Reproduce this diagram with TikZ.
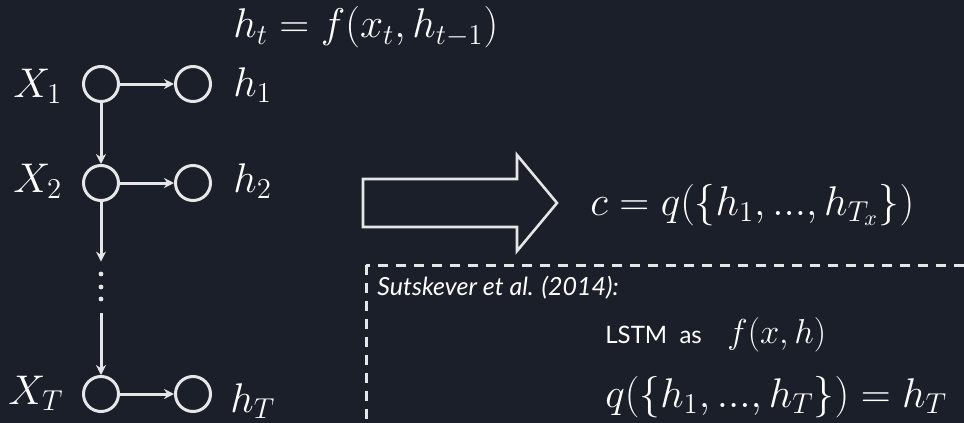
\documentclass[tikz,border=0pt]{standalone}
\usepackage{fontspec}
\newfontfamily\latofont{Lato}
\usetikzlibrary{arrows.meta}
\definecolor{slidebg}{RGB}{27,31,42}
\definecolor{chalk}{RGB}{230,230,230}
\tikzset{
  cell/.style={draw=chalk, circle, line width=1.5pt, minimum size=17.5pt, inner sep=0pt},
  flow/.style={->, draw=chalk, line width=1.5pt},
  eqn/.style={anchor=base west, inner sep=0pt, text=white},
  bigmath/.style={eqn, font=\fontsize{22}{26}\selectfont},
}
\begin{document}
\begin{tikzpicture}[x=0.5pt, y=-0.5pt, >={Stealth[length=5pt,width=5pt]}]
\useasboundingbox (0,0) rectangle (964,423);
\fill[slidebg] (0,0) rectangle (964,423);

\node[cell] (x1) at (101,84) {};
\node[cell] (h1) at (193,84) {};
\node[cell] (x2) at (101,183) {};
\node[cell] (h2) at (193,183) {};
\node[minimum height=25.5pt, minimum width=4pt, inner sep=0pt] (dots) at (101,287.5) {};
\node[cell] (xT) at (101,394) {};
\node[cell] (hT) at (193,394) {};
\foreach \y in {274,287,299} \fill[chalk] (101,\y) circle (1.2pt);

\draw[flow] (x1) -- (h1);
\draw[flow] (x2) -- (h2);
\draw[flow] (xT) -- (hT);
\draw[flow] (x1) -- (x2);
\draw[flow] (x2) -- (dots);
\draw[flow] (dots) -- (xT);

\node[bigmath] (rnn) at (233,38) {$h_t = f(x_t, h_{t-1})$};
\node[bigmath] (lx1) at (13,97) {$X_1$};
\node[bigmath] (lh1) at (233,96) {$h_1$};
\node[bigmath] (lx2) at (13,192) {$X_2$};
\node[bigmath] (lh2) at (233,192) {$h_2$};
\node[bigmath] (lxT) at (8,404) {$X_T$};
\node[bigmath] (lhT) at (230,412) {$h_T$};

% summary arrow
\draw[chalk, line width=1.3pt] (363,179) -- (517,179) -- (517,155) -- (557,203) -- (517,251) -- (517,227) -- (363,227) -- cycle;
\node[bigmath] (ctx) at (590,215) {$c = q(\{h_1, ..., h_{T_x}\})$};

% dashed note
\begin{scope}
\clip (0,0) rectangle (964,423);
\draw[chalk, line width=1.5pt, dash pattern=on 5pt off 4pt] (366,265) rectangle (1000,470);
\end{scope}
\node[eqn, font=\latofont\itshape\fontsize{12.5}{15}\selectfont] (cite) at (377,295) {Sutskever et al. (2014):};
\node[eqn, font=\latofont\fontsize{12}{14}\selectfont] (lstm) at (605,343) {LSTM\ \ as};
\node[eqn, font=\fontsize{16.2}{19}\selectfont] (fxh) at (727,343) {$f(x,h)$};
\node[bigmath] (qh) at (605,407) {$q(\{h_1, ..., h_T\}) = h_T$};
\end{tikzpicture}
\end{document}
